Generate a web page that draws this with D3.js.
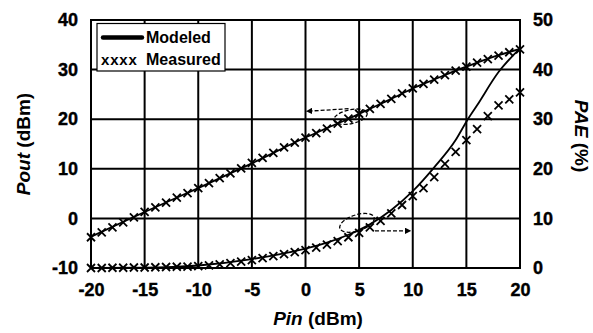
<!DOCTYPE html>
<html>
<head>
<meta charset="utf-8">
<script src="https://cdn.jsdelivr.net/npm/d3@7"></script>
<style>
  body { margin: 0; background: #fff; }
  svg text { font-family: "Liberation Sans", Arial, sans-serif; font-weight: bold; fill: #000; }
</style>
</head>
<body>
<div id="chart"></div>
<script>
// measured data, 1 dBm steps
var measPin = d3.range(-20, 21, 1);
var measPout = [-3.8, -2.8, -1.8, -0.8, 0.2, 1.3, 2.2, 3.2, 4.2, 5.1, 6.1, 7.1, 8.1, 9.1, 10.1, 11.2,
                12.2, 13.2, 14.3, 15.3, 16.3, 17.2, 18.1, 19.1, 20.1, 21.1, 22.1, 23.1, 24.1, 25.2,
                26.2, 27.1, 28.0, 28.9, 29.8, 30.6, 31.4, 32.1, 32.8, 33.5, 34.1];
var measPAE = [0, 0, 0.05, 0.05, 0.1, 0.1, 0.15, 0.2, 0.25, 0.3, 0.4, 0.55, 0.75, 1.0, 1.3, 1.6,
               2.0, 2.4, 2.8, 3.2, 3.6, 4.1, 4.7, 5.4, 6.2, 7.1, 8.2, 9.5, 11.0, 12.7,
               14.5, 16.1, 18.3, 21.0, 23.4, 25.8, 28.0, 30.6, 32.8, 34.0, 35.4];

// modeled curves
var modPin = [-20, -15, -10, -5, 0, 2, 4, 6, 8, 10, 12, 14, 15, 16, 18, 20];
var modPout = [-3.7, 1.3, 6.1, 11.1, 16.3, 18.2, 20.1, 22.1, 24.1, 26.2, 28.0, 29.8, 30.6, 31.4, 32.9, 34.2];
var modPAE = [0, 0.05, 0.5, 1.8, 3.9, 5.1, 6.7, 8.8, 11.7, 15.5, 20.3, 25.8, 29.5, 32.8, 39.5, 44.3];

var xTicks = [-20, -15, -10, -5, 0, 5, 10, 15, 20];
var yTicks = [-10, 0, 10, 20, 30, 40];
var y2Ticks = [0, 10, 20, 30, 40, 50];

var W = 593, H = 333;
var mLeft = 91, mRight = 520, mTop = 20, mBottom = 268;

var x = d3.scaleLinear().domain([-20, 20]).range([mLeft, mRight]);
var y = d3.scaleLinear().domain([-10, 40]).range([mBottom, mTop]);
var y2 = d3.scaleLinear().domain([0, 50]).range([mBottom, mTop]);

var svg = d3.select("#chart").append("svg")
    .attr("width", W)
    .attr("height", H);

// grid
svg.append("g").selectAll("line")
    .data(xTicks)
    .enter().append("line")
    .attr("x1", d => x(d)).attr("x2", d => x(d))
    .attr("y1", mTop - 1).attr("y2", mBottom + 1)
    .attr("stroke", "#000").attr("stroke-width", 2);
svg.append("g").selectAll("line")
    .data(yTicks)
    .enter().append("line")
    .attr("x1", mLeft - 1).attr("x2", mRight + 1)
    .attr("y1", d => y(d)).attr("y2", d => y(d))
    .attr("stroke", "#000").attr("stroke-width", 2);

// axes (labels only)
var fmt = d => String(d);
var xAxis = svg.append("g")
    .attr("transform", "translate(0," + mBottom + ")")
    .call(d3.axisBottom(x).tickValues(xTicks).tickFormat(fmt).tickSize(0).tickPadding(15));
var yAxis = svg.append("g")
    .attr("transform", "translate(" + mLeft + ",0)")
    .call(d3.axisLeft(y).tickValues(yTicks).tickFormat(fmt).tickSize(0).tickPadding(13));
var y2Axis = svg.append("g")
    .attr("transform", "translate(" + mRight + ",0)")
    .call(d3.axisRight(y2).tickValues(y2Ticks).tickFormat(fmt).tickSize(0).tickPadding(13));
[xAxis, yAxis, y2Axis].forEach(function(g) {
    g.select(".domain").remove();
    g.selectAll("text").style("font-size", "18px").style("font-family", "Liberation Sans, Arial, sans-serif")
        .style("font-weight", "bold").attr("fill", "#000")
        .attr("stroke", "#000").attr("stroke-width", 0.4);
});

// modeled lines
var linePout = d3.line().x((d, i) => x(modPin[i])).y(d => y(d)).curve(d3.curveMonotoneX);
var linePAE = d3.line().x((d, i) => x(modPin[i])).y(d => y2(d)).curve(d3.curveMonotoneX);
svg.append("path").datum(modPout).attr("d", linePout)
    .attr("fill", "none").attr("stroke", "#000").attr("stroke-width", 1.8);
svg.append("path").datum(modPAE).attr("d", linePAE)
    .attr("fill", "none").attr("stroke", "#000").attr("stroke-width", 1.8);

// measured markers
var cross = "M-4,-4L4,4M-4,4L4,-4";
svg.append("g").selectAll("path")
    .data(measPout)
    .enter().append("path")
    .attr("d", cross)
    .attr("transform", (d, i) => "translate(" + x(measPin[i]) + "," + y(d) + ")")
    .attr("stroke", "#000").attr("stroke-width", 1.8).attr("fill", "none");
svg.append("g").selectAll("path")
    .data(measPAE)
    .enter().append("path")
    .attr("d", cross)
    .attr("transform", (d, i) => "translate(" + x(measPin[i]) + "," + y2(d) + ")")
    .attr("stroke", "#000").attr("stroke-width", 1.8).attr("fill", "none");

// dashed annotations
svg.append("defs").append("marker")
    .attr("id", "arrow")
    .attr("viewBox", "0 0 10 10")
    .attr("refX", 9).attr("refY", 5)
    .attr("markerWidth", 5).attr("markerHeight", 5)
    .attr("orient", "auto")
    .append("path").attr("d", "M0,0L10,5L0,10z").attr("fill", "#000");

var ann = svg.append("g").attr("fill", "none").attr("stroke", "#000")
    .attr("stroke-width", 1.3).attr("stroke-dasharray", "4,2");
// Pout ellipse pointing left
var c1 = [x(4.2), y(20.5)];
ann.append("ellipse").attr("cx", c1[0]).attr("cy", c1[1]).attr("rx", 17).attr("ry", 7)
    .attr("transform", "rotate(-12," + c1[0] + "," + c1[1] + ")");
ann.append("path")
    .attr("d", "M" + (c1[0] - 2) + "," + (c1[1] - 8) + "L" + (x(0) + 1) + "," + y(21.6))
    .attr("marker-end", "url(#arrow)");
// PAE ellipse pointing right
var c2 = [x(4.8), y2(9.1)];
ann.append("ellipse").attr("cx", c2[0]).attr("cy", c2[1]).attr("rx", 18).attr("ry", 8)
    .attr("transform", "rotate(-18," + c2[0] + "," + c2[1] + ")");
ann.append("path")
    .attr("d", "M" + (c2[0] + 18) + "," + y2(7.5) + "L" + x(9.8) + "," + y2(7.5))
    .attr("marker-end", "url(#arrow)");

// legend
var lg = svg.append("g");
lg.append("rect").attr("x", 97).attr("y", 23.5).attr("width", 128).attr("height", 47.5)
    .attr("fill", "#fff").attr("stroke", "#000").attr("stroke-width", 1.2);
lg.append("line").attr("x1", 103).attr("x2", 142).attr("y1", 37.5).attr("y2", 37.5)
    .attr("stroke", "#000").attr("stroke-width", 4.5).attr("stroke-linecap", "round");
lg.append("text").attr("x", 146).attr("y", 43).style("font-size", "16px").text("Modeled");
lg.append("text").attr("x", 101).attr("y", 65).style("font-size", "15px")
    .style("letter-spacing", "0.8px").text("xxxx");
lg.append("text").attr("x", 146).attr("y", 65).style("font-size", "16px").text("Measured");

// axis titles
var xt = svg.append("text").attr("x", 318).attr("y", 325).attr("text-anchor", "middle")
    .style("font-size", "19px");
xt.append("tspan").style("font-style", "italic").text("Pin");
xt.append("tspan").text(" (dBm)");

var yt = svg.append("text").attr("transform", "translate(30,144) rotate(-90)")
    .attr("text-anchor", "middle").style("font-size", "19px");
yt.append("tspan").style("font-style", "italic").text("Pout");
yt.append("tspan").text(" (dBm)");

var y2t = svg.append("text").attr("transform", "translate(575,136) rotate(90)")
    .attr("text-anchor", "middle").style("font-size", "19px");
y2t.append("tspan").style("font-style", "italic").text("PAE");
y2t.append("tspan").text(" (%)");
</script>
</body>
</html>
